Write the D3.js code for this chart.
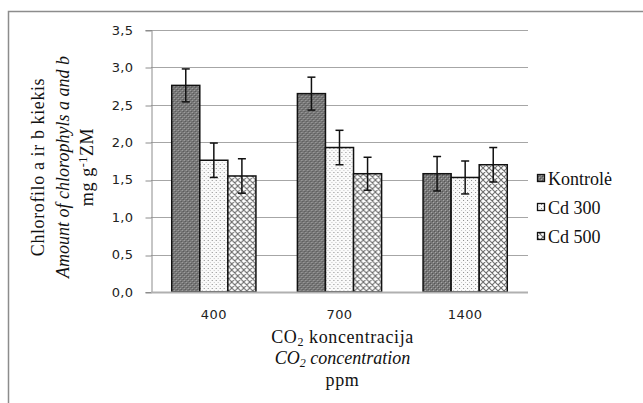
<!DOCTYPE html>
<html>
<head>
<meta charset="utf-8">
<script src="https://cdn.jsdelivr.net/npm/d3@7"></script>
<style>
  body { margin: 0; background: #fff; }
  svg { display: block; }
  .serif { font-family: "Liberation Serif", "Times New Roman", Times, serif; }
  .sans { font-family: "DejaVu Sans", Verdana, sans-serif; }
</style>
</head>
<body>
<script>
const w = 643, h = 403

// data
const concentrations = ['400', '700', '1400']
const seriesNames = ['Kontrolė', 'Cd 300', 'Cd 500']
const kontrole = [2.76, 2.65, 1.58]
const cd300 = [1.76, 1.93, 1.53]
const cd500 = [1.55, 1.58, 1.70]
const kontroleErr = [0.22, 0.22, 0.23]
const cd300Err = [0.23, 0.23, 0.22]
const cd500Err = [0.23, 0.22, 0.23]
const yTicks = [0, 0.5, 1, 1.5, 2, 2.5, 3, 3.5]

const values = [kontrole, cd300, cd500]
const errors = [kontroleErr, cd300Err, cd500Err]
const patterns = ['pat-k', 'pat-300', 'pat-500']

const svg = d3.select('body')
    .append('svg')
    .attr('width', w)
    .attr('height', h)

const defs = svg.append('defs')

// dark checker for Kontrolė
let pk = defs.append('pattern').attr('id', 'pat-k')
    .attr('patternUnits', 'userSpaceOnUse').attr('width', 4).attr('height', 4)
pk.append('rect').attr('width', 4).attr('height', 4).attr('fill', '#777')
pk.append('rect').attr('x', 0).attr('y', 0).attr('width', 1).attr('height', 1).attr('fill', '#aaa')
pk.append('rect').attr('x', 2).attr('y', 2).attr('width', 1).attr('height', 1).attr('fill', '#aaa')
pk.append('rect').attr('x', 1).attr('y', 1).attr('width', 1).attr('height', 1).attr('fill', '#525252')
pk.append('rect').attr('x', 3).attr('y', 3).attr('width', 1).attr('height', 1).attr('fill', '#525252')

// sparse dots for Cd 300
let p3 = defs.append('pattern').attr('id', 'pat-300')
    .attr('patternUnits', 'userSpaceOnUse').attr('width', 4).attr('height', 4)
p3.append('rect').attr('width', 4).attr('height', 4).attr('fill', '#fafafa')
p3.append('rect').attr('x', 0).attr('y', 0).attr('width', 1).attr('height', 1).attr('fill', '#8a8a8a')
p3.append('rect').attr('x', 2).attr('y', 2).attr('width', 1).attr('height', 1).attr('fill', '#c4c4c4')

// crosshatch for Cd 500
let p5 = defs.append('pattern').attr('id', 'pat-500')
    .attr('patternUnits', 'userSpaceOnUse').attr('width', 6).attr('height', 6)
p5.append('rect').attr('width', 6).attr('height', 6).attr('fill', '#fff')
p5.append('path').attr('d', 'M0,0 L6,6 M6,0 L0,6 M-1,5 L1,7 M5,-1 L7,1 M-1,1 L1,-1 M5,7 L7,5')
    .attr('stroke', '#6a6a6a').attr('stroke-width', 1.1)

// outer frame (cut at right and bottom)
svg.append('rect')
    .attr('x', 8.5).attr('y', 11.5)
    .attr('width', 700).attr('height', 500)
    .attr('fill', 'none').attr('stroke', '#8c8c8c').attr('stroke-width', 1.5)

const plotLeft = 151, plotRight = 528, plotTop = 30, plotBottom = 292

const xScale = d3.scaleBand()
    .domain(concentrations)
    .range([plotLeft, plotRight])
    .paddingInner(0.33)
    .paddingOuter(0.165)

const xSub = d3.scaleBand()
    .domain(seriesNames)
    .range([0, xScale.bandwidth()])

const yScale = d3.scaleLinear()
    .domain([0, 3.5])
    .range([plotBottom, plotTop])

// gridlines
svg.append('g')
    .selectAll('line')
    .data(yTicks.filter(d => d > 0))
    .enter()
    .append('line')
    .attr('x1', plotLeft).attr('x2', plotRight)
    .attr('y1', d => Math.round(yScale(d)) + 0.5)
    .attr('y2', d => Math.round(yScale(d)) + 0.5)
    .attr('stroke', '#a6a6a6')

const yAxis = d3.axisLeft(yScale)
    .tickValues(yTicks)
    .tickSize(6)
    .tickPadding(12)
    .tickFormat(d => d3.format('.1f')(d).replace('.', ','))

let gy = svg.append('g')
    .attr('transform', 'translate(' + (plotLeft + 0.5) + ', 0)')
    .call(yAxis)
gy.attr('font-family', null).attr('font-size', null)
gy.select('.domain').attr('stroke', '#8c8c8c')
gy.selectAll('.tick line').attr('stroke', '#8c8c8c')
    .attr('transform', d => 'translate(0,' + (Math.round(yScale(d)) + 0.5 - yScale(d)) + ')')
gy.selectAll('.tick text')
    .attr('class', 'sans')
    .attr('fill', '#222')
    .style('font-size', '13px')
    .style('letter-spacing', '0.4px')

// bars
svg.append('g')
    .selectAll('g')
    .data(concentrations)
    .enter()
    .append('g')
    .attr('transform', d => 'translate(' + xScale(d) + ',0)')
    .each(function (c, ci) {
        let g = d3.select(this)
        seriesNames.forEach((s, si) => {
            const v = values[si][ci]
            g.append('rect')
                .attr('x', xSub(s))
                .attr('y', yScale(v))
                .attr('width', xSub.bandwidth())
                .attr('height', yScale(0) - yScale(v))
                .attr('fill', 'url(#' + patterns[si] + ')')
                .attr('stroke', '#111')
                .attr('stroke-width', 1.5)
        })
    })

// x axis line
svg.append('line')
    .attr('x1', plotLeft).attr('x2', plotRight)
    .attr('y1', plotBottom + 0.5).attr('y2', plotBottom + 0.5)
    .attr('stroke', '#b0b0b0').attr('stroke-width', 2)

// error bars
let eg = svg.append('g').attr('stroke', '#111').attr('stroke-width', 1.5)
concentrations.forEach((c, ci) => {
    seriesNames.forEach((s, si) => {
        const cx = xScale(c) + xSub(s) + xSub.bandwidth() / 2
        const v = values[si][ci], e = errors[si][ci]
        eg.append('line').attr('x1', cx).attr('x2', cx)
            .attr('y1', yScale(v + e)).attr('y2', yScale(v - e))
        eg.append('line').attr('x1', cx - 4).attr('x2', cx + 4)
            .attr('y1', yScale(v + e)).attr('y2', yScale(v + e))
        eg.append('line').attr('x1', cx - 4).attr('x2', cx + 4)
            .attr('y1', yScale(v - e)).attr('y2', yScale(v - e))
    })
})

// category labels
svg.append('g')
    .selectAll('text')
    .data(concentrations)
    .enter()
    .append('text')
    .attr('class', 'sans')
    .attr('x', d => xScale(d) + xScale.bandwidth() / 2)
    .attr('y', 319)
    .attr('text-anchor', 'middle')
    .attr('fill', '#222')
    .style('font-size', '13px')
    .style('letter-spacing', '0.4px')
    .text(d => d)

// x axis title
const xt = svg.append('g')
    .attr('class', 'serif')
    .attr('text-anchor', 'middle')
    .style('font-size', '18px')
    .attr('fill', '#111')
const midX = (plotLeft + plotRight) / 2 + 3
let t1 = xt.append('text').attr('x', midX).attr('y', 343).style('letter-spacing', '0.6px')
t1.append('tspan').text('CO')
t1.append('tspan').attr('dy', 3).style('font-size', '12px').text('2')
t1.append('tspan').attr('dy', -3).text(' koncentracija')
let t2 = xt.append('text').attr('x', midX).attr('y', 364).style('font-style', 'italic')
t2.append('tspan').text('CO')
t2.append('tspan').attr('dy', 3).style('font-size', '12px').text('2')
t2.append('tspan').attr('dy', -3).text(' concentration')
xt.append('text').attr('x', midX).attr('y', 386).style('letter-spacing', '0.6px').text('ppm')

// y axis title
const midY = 167
const yt = svg.append('g')
    .attr('class', 'serif')
    .attr('text-anchor', 'middle')
    .style('font-size', '18px')
    .attr('fill', '#111')
yt.append('text')
    .attr('transform', 'translate(44,' + midY + ') rotate(-90)')
    .style('letter-spacing', '0.6px')
    .text('Chlorofilo a ir b kiekis')
yt.append('text')
    .attr('transform', 'translate(69,' + midY + ') rotate(-90)')
    .style('font-style', 'italic')
    .text('Amount of chlorophyls a and b')
let t3 = yt.append('text')
    .attr('transform', 'translate(93,' + midY + ') rotate(-90)')
    .style('letter-spacing', '0.6px')
t3.append('tspan').text('mg g')
t3.append('tspan').attr('dy', -6).style('font-size', '12px').text('-1')
t3.append('tspan').attr('dy', 6).text('ZM')

// legend
let legend = svg.selectAll('.legend')
    .data(seriesNames)
    .enter()
    .append('g')
    .attr('class', 'legend')
    .attr('transform', (d, i) => 'translate(537,' + (179 + i * 29) + ')')

legend.append('rect')
    .attr('x', 0.5).attr('y', -4.5)
    .attr('width', 7).attr('height', 7)
    .attr('fill', (d, i) => 'url(#' + patterns[i] + ')')
    .attr('stroke', '#111')
    .attr('stroke-width', 1.3)

legend.append('text')
    .attr('class', 'serif')
    .attr('x', 11)
    .attr('y', 5.5)
    .style('font-size', '18px')
    .attr('fill', '#111')
    .text(d => d)
</script>
</body>
</html>
